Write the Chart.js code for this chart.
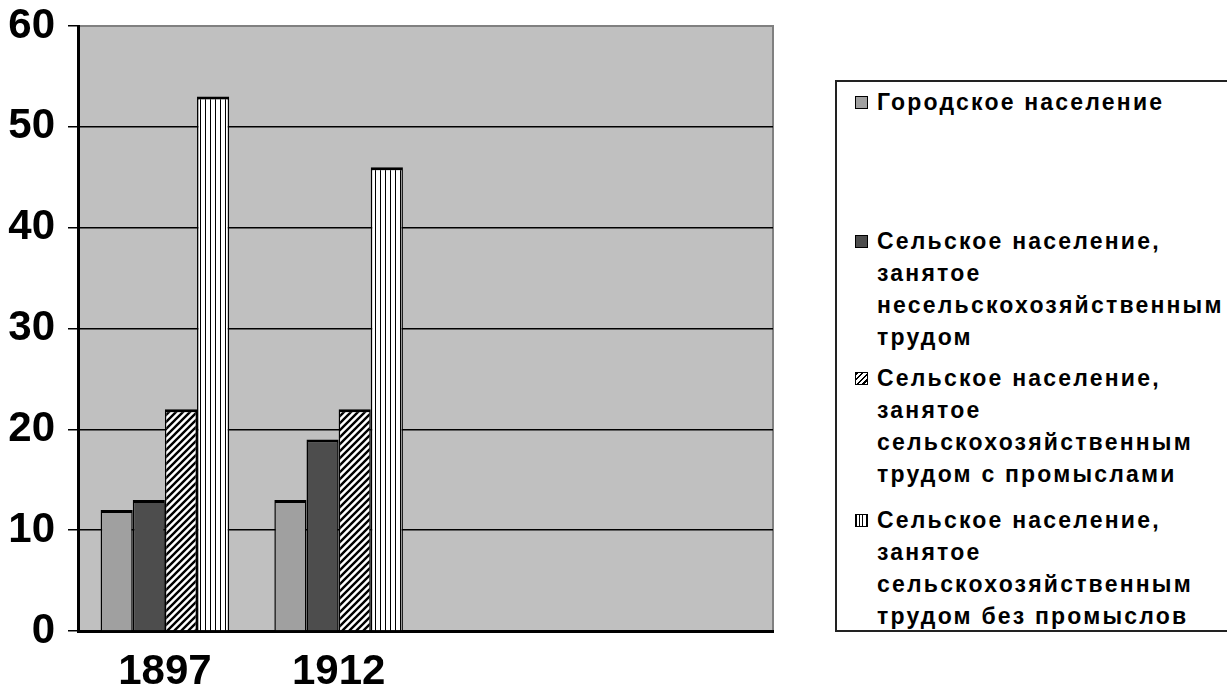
<!DOCTYPE html>
<html>
<head>
<meta charset="utf-8">
<script src="https://cdn.jsdelivr.net/npm/chart.js@4.4.1/dist/chart.umd.min.js"></script>
<style>
  body { margin:0; background:#fff; width:1227px; height:687px; overflow:hidden; position:relative;
         font-family:'Liberation Sans', Arial, sans-serif; }
  #wrap { position:absolute; left:0; top:0; width:800px; height:687px; }
  #legend { position:absolute; left:835px; top:80px; width:400px; height:552px;
            border:2px solid #222; box-sizing:border-box; background:#fff; }
  .item { position:absolute; left:0; width:398px; }
  .line { position:absolute; left:40px; height:32px; line-height:32px; white-space:nowrap;
          font-size:23px; font-weight:bold; letter-spacing:2.2px; color:#000; }
  .sw { position:absolute; left:18px; top:10px; width:13px; height:13px;
        border:1.5px solid #000; box-sizing:border-box; }
</style>
</head>
<body>
<div id="wrap"><canvas id="chart"></canvas></div>
<div id="legend"></div>

<script>
// ============================================
// DADOS
// ============================================

const categories = ['1897', '1912', '', ''];
const yTicks     = [0, 10, 20, 30, 40, 50, 60];

const urban        = [12, 13, null, null];
const ruralNonAgr  = [13, 19, null, null];
const ruralAgrCraft= [22, 22, null, null];
const ruralAgrOnly = [53, 46, null, null];

const seriesLines = [
  ['Городское население'],
  ['Сельское население,', 'занятое', 'несельскохозяйственным', 'трудом'],
  ['Сельское население,', 'занятое', 'сельскохозяйственным', 'трудом с промыслами'],
  ['Сельское население,', 'занятое', 'сельскохозяйственным', 'трудом без промыслов'],
];

// ============================================
// PADRÕES (hachuras)
// ============================================

function diagPattern() {
  const c = document.createElement('canvas');
  c.width = 7; c.height = 7;
  const g = c.getContext('2d');
  g.fillStyle = '#fff'; g.fillRect(0, 0, 7, 7);
  g.strokeStyle = '#000'; g.lineWidth = 2.4;
  g.beginPath();
  g.moveTo(0, 7);  g.lineTo(7, 0);
  g.moveTo(-1, 1); g.lineTo(1, -1);
  g.moveTo(6, 8);  g.lineTo(8, 6);
  g.stroke();
  return g.createPattern(c, 'repeat');
}

function vertPattern() {
  const c = document.createElement('canvas');
  c.width = 5; c.height = 4;
  const g = c.getContext('2d');
  g.fillStyle = '#fff'; g.fillRect(0, 0, 5, 4);
  g.fillStyle = '#000'; g.fillRect(0, 0, 1, 4);
  return g.createPattern(c, 'repeat');
}

const ctx = document.getElementById('chart').getContext('2d');

const fills = ['#a0a0a0', '#4d4d4d', diagPattern(), vertPattern()];
const values = [urban, ruralNonAgr, ruralAgrCraft, ruralAgrOnly];

// fundo cinza da área do gráfico
const plotBg = {
  id: 'plotBg',
  beforeDraw(chart) {
    const { ctx, chartArea: a } = chart;
    ctx.save();
    ctx.fillStyle = '#c0c0c0';
    ctx.fillRect(a.left, a.top, a.right - a.left, a.bottom - a.top);
    ctx.strokeStyle = '#808080';
    ctx.lineWidth = 2;
    ctx.beginPath();
    ctx.moveTo(a.left, a.top);
    ctx.lineTo(a.right, a.top);
    ctx.lineTo(a.right, a.bottom);
    ctx.stroke();
    ctx.restore();
  }
};

new Chart(ctx, {
  type: 'bar',
  data: {
    labels: categories,
    datasets: values.map((v, i) => ({
      label: seriesLines[i].join(' '),
      data: v,
      backgroundColor: fills[i],
      borderColor: '#000',
      borderWidth: { top: 3, left: 1.5, right: 1.5, bottom: 0 },
      borderSkipped: 'bottom',
    })),
  },
  options: {
    responsive: true,
    maintainAspectRatio: false,
    animation: false,
    layout: { padding: { top: 26, right: 27, left: 0, bottom: 0 } },
    plugins: { legend: { display: false }, tooltip: { enabled: false } },
    datasets: { bar: { categoryPercentage: 0.74, barPercentage: 1 } },
    scales: {
      x: {
        grid: { drawOnChartArea: false, drawTicks: false },
        border: { display: true, color: '#000', width: 3 },
        ticks: { color: '#000', padding: 16, font: { size: 42, weight: 'bold', family: 'Liberation Sans' } },
        afterFit: (s) => { s.height = 56; s.paddingLeft = 0; s.paddingRight = 0; },
      },
      y: {
        min: 0, max: 60,
        afterBuildTicks: (s) => { s.ticks = yTicks.map(v => ({ value: v })); },
        grid: {
          color: (c) => c.tick && c.tick.value === 60 ? '#808080' : '#000',
          lineWidth: 1.5,
          tickLength: 10,
          tickColor: '#000',
        },
        border: { display: true, color: '#000', width: 3 },
        ticks: { color: '#000', padding: 13, font: { size: 42, weight: 'bold', family: 'Liberation Sans' } },
        afterFit: (s) => { s.width = 78; s.paddingTop = 0; s.paddingBottom = 0; },
      },
    },
  },
  plugins: [plotBg],
});

// ============================================
// LEGENDA (HTML)
// ============================================

const itemTops = [4, 143, 280, 422];
const swatchCss = [
  'background:#a0a0a0',
  'background:#4d4d4d',
  'background:repeating-linear-gradient(135deg,#000 0 1.6px,#fff 1.6px 4px)',
  'background:repeating-linear-gradient(90deg,#000 0 1px,#fff 1px 3.2px)',
];

const legend = document.getElementById('legend');
legend.innerHTML = seriesLines.map((lines, i) => `
  <div class="item" style="top:${itemTops[i]}px">
    <span class="sw" style="${swatchCss[i]}"></span>
    ${lines.map((t, j) => `<div class="line" style="top:${j * 32}px">${t}</div>`).join('')}
  </div>
`).join('');
</script>
</body>
</html>
